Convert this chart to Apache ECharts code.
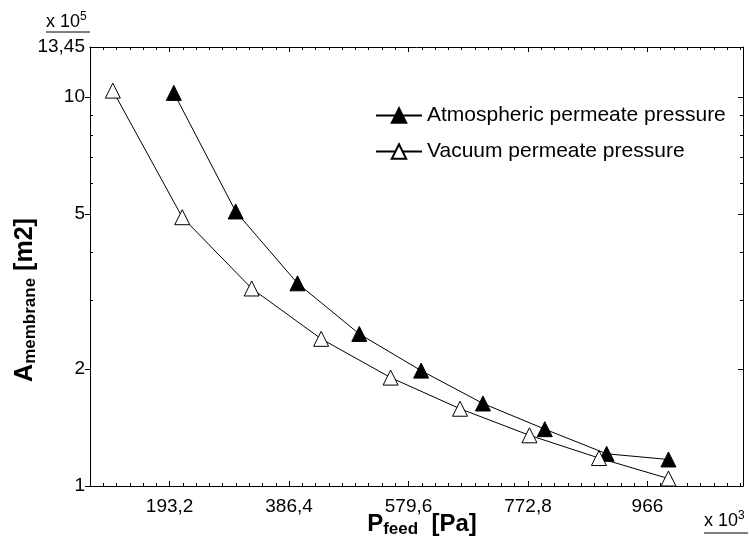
<!DOCTYPE html>
<html>
<head>
<meta charset="utf-8">
<script src="https://cdn.jsdelivr.net/npm/echarts@6/dist/echarts.min.js"></script>
<style>
html, body { margin: 0; padding: 0; background: #fff; }
#chart { width: 749px; height: 552px; }
</style>
</head>
<body>
<div id="chart"></div>
<script>
// feed pressure in kPa (axis shows x 10^3 Pa), membrane area in x 10^5 m2
const feedAtm = [200, 300, 400, 500, 600, 700, 800, 900, 1000];
const areaAtm = [10.25, 5.08, 3.32, 2.46, 1.98, 1.63, 1.40, 1.21, 1.17];
const feedVac = [101.3, 213.6, 325.9, 438.3, 550.6, 662.9, 775.2, 887.6, 1000];
const areaVac = [10.39, 4.91, 3.22, 2.39, 1.90, 1.58, 1.35, 1.18, 1.045];

const xTicks = [193.2, 386.4, 579.6, 772.8, 966];
const yLabels = [1, 2, 5, 10, 13.45];
const yTicks = [1, 2, 5, 10];
const yMinor = [3, 4, 6, 7, 8, 9];

const X_MIN = 64.4, X_MAX = 1120.6;
const Y_MIN = 1, Y_MAX = 13.45;

// minor ticks every 1/9 of a major step
const xMinor = [];
for (let k = 3; k <= 52; k++) xMinor.push(+(k * 193.2 / 9).toFixed(4));

const FONT = '"Liberation Sans", Arial, sans-serif';
const comma = v => String(+(+v).toPrecision(5)).replace('.', ',');
const black = { color: '#000', width: 1 };

function xAx(pos, ticks, len, line, labels) {
  return {
    type: 'value', position: pos, min: X_MIN, max: X_MAX,
    axisLine: { show: line, onZero: false, lineStyle: black },
    axisTick: { show: true, inside: true, length: len, customValues: ticks, lineStyle: black },
    axisLabel: labels ? {
      customValues: xTicks, formatter: comma, color: '#000',
      fontFamily: FONT, fontSize: 19, margin: 11
    } : { show: false },
    splitLine: { show: false }
  };
}
function yAx(pos, ticks, len, inside, line, labels) {
  return {
    type: 'log', logBase: 10, position: pos, min: Y_MIN, max: Y_MAX,
    axisLine: { show: line, onZero: false, lineStyle: black },
    axisTick: { show: true, inside: inside, length: len, customValues: ticks, lineStyle: black },
    axisLabel: labels ? {
      customValues: yLabels, formatter: comma, color: '#000',
      fontFamily: FONT, fontSize: 19, margin: 5
    } : { show: false },
    splitLine: { show: false },
    minorTick: { show: false }
  };
}

const option = {
  animation: false,
  backgroundColor: '#fff',
  grid: { left: 90, top: 47, right: 6, bottom: 66 },
  xAxis: [
    xAx('bottom', xTicks, 5, true, true),
    xAx('bottom', xMinor, 3, false, false),
    xAx('top', xTicks, 5, true, false),
    xAx('top', xMinor, 3, false, false)
  ],
  yAxis: [
    yAx('left', yTicks, 5, false, true, true),
    yAx('left', yMinor, 3, true, false, false),
    yAx('right', yTicks, 5, true, true, false),
    yAx('right', yMinor, 3, true, false, false)
  ],
  legend: {
    orient: 'vertical', left: 370, top: 100,
    itemWidth: 46, itemHeight: 18, itemGap: 15,
    textStyle: { fontFamily: FONT, fontSize: 21, color: '#000' },
    data: ['Atmospheric permeate pressure', 'Vacuum permeate pressure']
  },
  series: [
    {
      name: 'Atmospheric permeate pressure', type: 'line',
      data: feedAtm.map((x, i) => [x, areaAtm[i]]),
      symbol: 'triangle', symbolSize: 15,
      lineStyle: { color: '#000', width: 1 },
      itemStyle: { color: '#000', borderColor: '#000', borderWidth: 1 },
      clip: false
    },
    {
      name: 'Vacuum permeate pressure', type: 'line',
      data: feedVac.map((x, i) => [x, areaVac[i]]),
      symbol: 'triangle', symbolSize: 15,
      lineStyle: { color: '#000', width: 1 },
      itemStyle: { color: '#fff', borderColor: '#000', borderWidth: 1 },
      clip: false
    }
  ],
  graphic: [
    {
      type: 'text', x: 25, y: 300, rotation: Math.PI / 2,
      style: {
        text: '{a|A}{s|membrane}{a| [m2]}', align: 'center', verticalAlign: 'middle',
        rich: {
          a: { fontFamily: FONT, fontWeight: 'bold', fontSize: 25, fill: '#000' },
          s: { fontFamily: FONT, fontWeight: 'bold', fontSize: 17, fill: '#000', padding: [10, 0, 0, 0] }
        }
      }
    },
    {
      type: 'text', x: 422, y: 524,
      style: {
        text: '{a|P}{s|feed}{a|  [Pa]}', align: 'center', verticalAlign: 'middle',
        rich: {
          a: { fontFamily: FONT, fontWeight: 'bold', fontSize: 24, fill: '#000' },
          s: { fontFamily: FONT, fontWeight: 'bold', fontSize: 17, fill: '#000', padding: [10, 0, 0, 0] }
        }
      }
    },
    {
      type: 'text', x: 46, y: 22,
      style: {
        text: '{a|x 10}{b|5}', verticalAlign: 'middle',
        rich: {
          a: { fontFamily: FONT, fontSize: 18, fill: '#000' },
          b: { fontFamily: FONT, fontSize: 12, fill: '#000', padding: [0, 0, 11, 0] }
        }
      }
    },
    { type: 'line', shape: { x1: 46, y1: 32, x2: 90, y2: 32 }, style: { stroke: '#000', lineWidth: 1 } },
    {
      type: 'text', x: 704, y: 521,
      style: {
        text: '{a|x 10}{b|3}', verticalAlign: 'middle',
        rich: {
          a: { fontFamily: FONT, fontSize: 18, fill: '#000' },
          b: { fontFamily: FONT, fontSize: 12, fill: '#000', padding: [0, 0, 11, 0] }
        }
      }
    },
    { type: 'line', shape: { x1: 704, y1: 533, x2: 748, y2: 533 }, style: { stroke: '#000', lineWidth: 1 } }
  ]
};

const chart = echarts.init(document.getElementById('chart'));
chart.setOption(option);
</script>
</body>
</html>
